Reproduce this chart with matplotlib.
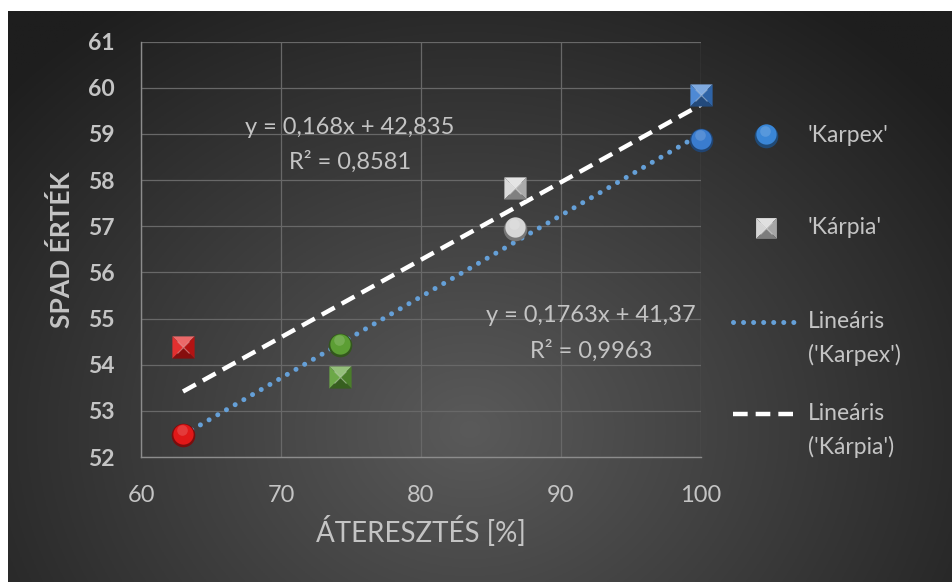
import numpy as np
import matplotlib
matplotlib.use("Agg")
import matplotlib.pyplot as plt
import matplotlib.colors as mcolors
from matplotlib.transforms import ScaledTranslation

# ---- data -------------------------------------------------------------
atereszt = [63.0, 74.2, 86.7, 100.0]          # áteresztés [%]
spad_karpex = [52.47, 54.42, 56.94, 58.86]    # 'Karpex'
spad_karpia = [54.38, 53.74, 57.84, 59.84]    # 'Kárpia'
point_colors = ["#e01818", "#5c9e34", "#d6d6d6", "#3a7ccf"]

trend_karpex = (0.1763, 41.37, 0.9963)        # slope, intercept, R²
trend_karpia = (0.168, 42.835, 0.8581)

x_ticks = [60, 70, 80, 90, 100]
y_ticks = list(range(52, 62))

FONT = "Lato"
TXT = "#c4c4c4"

W, H = 953, 582
fig = plt.figure(figsize=(W / 100, H / 100), dpi=100)
fig.patch.set_facecolor("white")

# ---- dark radial-gradient chart background -----------------------------
x0, y0 = 8, 11
bg = fig.add_axes([x0 / W, 0, 1 - x0 / W, 1 - y0 / H])
bg.set_axis_off()
gx, gy = np.meshgrid(np.linspace(x0, W, 400), np.linspace(y0, H, 250))
r = np.hypot((gx - 470) / 620, (gy - 430) / 520)
r = np.clip(r, 0, 1)
c_in = np.array(mcolors.to_rgb("#5a5a5a"))
c_out = np.array(mcolors.to_rgb("#1e1e1e"))
img = c_in[None, None, :] * (1 - r[..., None]) + c_out[None, None, :] * r[..., None]
bg.imshow(img, aspect="auto", extent=[0, 1, 0, 1], origin="upper")
bg.set_xlim(0, 1)
bg.set_ylim(0, 1)

# ---- plot area -------------------------------------------------------
L, R_, T, B = 141, 701, 41.7, 457
ax = fig.add_axes([L / W, 1 - B / H, (R_ - L) / W, (B - T) / H])
ax.set_facecolor("none")
ax.set_xlim(60, 100)
ax.set_ylim(52, 61)
ax.set_xticks(x_ticks)
ax.set_yticks(y_ticks)
ax.grid(True, color="#686868", linewidth=0.9)
ax.set_axisbelow(True)
for s in ("top", "right"):
    ax.spines[s].set_visible(False)
for s in ("left", "bottom"):
    ax.spines[s].set_color("#8c8c8c")
    ax.spines[s].set_linewidth(1.0)
ax.tick_params(length=0)
for lab in ax.get_xticklabels():
    lab.set_fontfamily(FONT)
    lab.set_fontsize(17)
    lab.set_color(TXT)
for lab in ax.get_yticklabels():
    lab.set_fontfamily(FONT)
    lab.set_fontsize(16.5)
    lab.set_fontweight("bold")
    lab.set_color(TXT)
ax.tick_params(axis="y", pad=19)
ax.tick_params(axis="x", pad=20)

ax.set_xlabel("ÁTERESZTÉS [%]", fontfamily=FONT, fontsize=20, color=TXT, labelpad=7)
ax.set_ylabel("SPAD ÉRTÉK", fontfamily=FONT, fontsize=19, fontweight="bold",
              color=TXT, labelpad=10)

# ---- trendlines ------------------------------------------------------
xt = np.array([min(atereszt), max(atereszt)])
ax.plot(xt, trend_karpex[0] * xt + trend_karpex[1], color="#65a0d8",
        linestyle=(0, (0.01, 2.0)), dash_capstyle="round", linewidth=3.6, zorder=3)
ax.plot(xt, trend_karpia[0] * xt + trend_karpia[1], color="white",
        linestyle=(0, (3.3, 1.8)), linewidth=3.2, zorder=3)


def shade(c, f):
    c = np.array(mcolors.to_rgb(c))
    if f >= 0:
        return tuple(c + (1 - c) * f)
    return tuple(c * (1 + f))


def sphere(axis, x, y, color, ms, transform=None, z=5):
    kw = {} if transform is None else {"transform": transform}
    tr = axis.transData if transform is None else transform
    axis.plot(x, y, "o", ms=ms, color=shade(color, -0.45), mec="none", zorder=z, **kw)
    up = tr + ScaledTranslation(0, 1.2 / 72, fig.dpi_scale_trans)
    axis.plot(x, y, "o", ms=ms * 0.86, color=color, mec="none", zorder=z + 0.1, transform=up)
    up2 = tr + ScaledTranslation(-0.6 / 72, 3.6 / 72, fig.dpi_scale_trans)
    axis.plot(x, y, "o", ms=ms * 0.45, color=shade(color, 0.3), mec="none",
              alpha=0.5, zorder=z + 0.2, transform=up2)


TRI = {
    "top": [(-1, 1), (1, 1), (0, 0)],
    "left": [(-1, 1), (-1, -1), (0, 0)],
    "right": [(1, 1), (1, -1), (0, 0)],
    "bottom": [(-1, -1), (1, -1), (0, 0)],
}
FACE = {"top": 0.35, "left": 0.1, "right": -0.2, "bottom": -0.4}


def pyramid(axis, x, y, color, ms, transform=None, z=5):
    kw = {} if transform is None else {"transform": transform}
    for k, verts in TRI.items():
        axis.plot(x, y, marker=verts, ms=ms, color=shade(color, FACE[k]),
                  mec="none", linestyle="none", zorder=z, **kw)
    axis.plot(x, y, marker="x", ms=ms * 0.55, color=shade(color, 0.6), mew=0.8,
              alpha=0.6, linestyle="none", zorder=z + 0.1, **kw)


for xv, yk, yp, c in zip(atereszt, spad_karpex, spad_karpia, point_colors):
    sphere(ax, [xv], [yk], c, 17)
    pyramid(ax, [xv], [yp], c, 16)
for a in ax.lines:
    a.set_clip_on(False)

# ---- trendline equations -----------------------------------------------
ax_fig = fig.add_axes([0, 0, 1, 1])
ax_fig.set_xlim(0, W)
ax_fig.set_ylim(H, 0)
ax_fig.set_axis_off()
ax_fig.patch.set_visible(False)

eq_kw = dict(fontfamily=FONT, fontsize=17, color=TXT, ha="center", va="center")
ax_fig.text(350, 128, "y = 0,168x + 42,835", **eq_kw)
ax_fig.text(350, 162, "R² = 0,8581", **eq_kw)
ax_fig.text(591, 316, "y = 0,1763x + 41,37", **eq_kw)
ax_fig.text(591, 351, "R² = 0,9963", **eq_kw)

# ---- legend -------------------------------------------------------------
leg_kw = dict(fontfamily=FONT, fontsize=16.5, color=TXT, ha="left", va="center")
sphere(ax_fig, [766], [136], "#3a86d6", 17)
ax_fig.text(808, 136, "'Karpex'", **leg_kw)
pyramid(ax_fig, [766], [228], "#d0d0d0", 15)
ax_fig.text(808, 228, "'Kárpia'", **leg_kw)
ax_fig.plot([733, 797], [322, 322], color="#65a0d8", linestyle=(0, (0.01, 2.0)),
            dash_capstyle="round", linewidth=3.6)
ax_fig.text(808, 322, "Lineáris", **leg_kw)
ax_fig.text(808, 355, "('Karpex')", **leg_kw)
ax_fig.plot([733, 797], [414, 414], color="white", linestyle=(0, (3.3, 1.8)),
            linewidth=3.2)
ax_fig.text(808, 414, "Lineáris", **leg_kw)
ax_fig.text(808, 447, "('Kárpia')", **leg_kw)

fig.savefig("out.png", dpi=100, facecolor=fig.get_facecolor())
